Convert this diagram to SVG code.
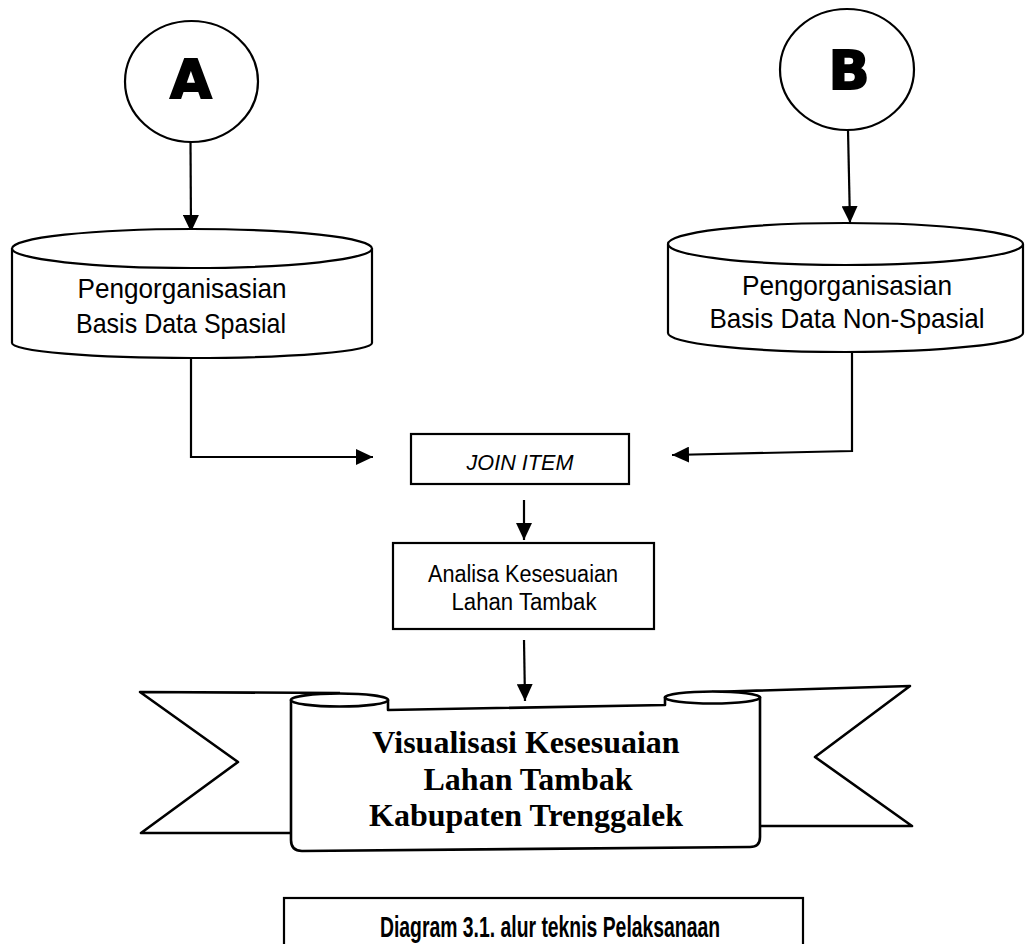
<svg xmlns="http://www.w3.org/2000/svg" width="1025" height="944" viewBox="0 0 1025 944">
  <style>
    .ln { fill: none; stroke: #000; stroke-width: 2.2; }
    .shape { fill: #fff; stroke: #000; stroke-width: 2.2; }
    .heavy { fill: #fff; stroke: #000; stroke-width: 2.6; stroke-linejoin: round; }
    .sans { font-family: "Liberation Sans", Arial, sans-serif; fill: #000; text-anchor: middle; }
    .letter { font-family: "DejaVu Sans", "Liberation Sans", sans-serif; font-weight: bold; font-size: 54px; fill: #000; stroke: #000; stroke-width: 1.8; text-anchor: middle; }
    .serif { font-family: "Liberation Serif", "Times New Roman", serif; font-weight: bold; font-size: 32px; fill: #000; text-anchor: middle; }
  </style>
  <defs>
    <marker id="arrow" markerUnits="userSpaceOnUse" markerWidth="17" markerHeight="16" refX="17" refY="8" orient="auto">
      <path d="M0,0 L17,8 L0,16 Z" fill="#000"/>
    </marker>
  </defs>

  <rect width="1025" height="944" fill="#fff"/>

  <!-- connectors -->
  <g id="connectors">
    <path class="ln" d="M190.5,142 L191,232" marker-end="url(#arrow)"/>
    <path class="ln" d="M848,130 L850,223" marker-end="url(#arrow)"/>
    <path class="ln" d="M191,359 L191,457 L373,457" marker-end="url(#arrow)"/>
    <path class="ln" d="M852,352 L852,451 L672,455" marker-end="url(#arrow)"/>
    <path class="ln" d="M524,500 L524,540" marker-end="url(#arrow)"/>
    <path class="ln" d="M524,640 L525,701" marker-end="url(#arrow)"/>
  </g>

  <!-- start connectors -->
  <g id="node-a">
    <ellipse class="shape" cx="191.5" cy="81.5" rx="66.5" ry="60.5"/>
    <text class="letter" x="191" y="98">A</text>
  </g>
  <g id="node-b">
    <ellipse class="shape" cx="847" cy="69.5" rx="67" ry="60.5"/>
    <text class="letter" x="849" y="89">B</text>
  </g>

  <!-- database cylinders -->
  <g id="db-spasial">
    <path class="shape" d="M12,248 L12,343 A180,15 0 0 0 372,343 L372,248"/>
    <ellipse class="shape" cx="192" cy="248.5" rx="180" ry="19.5"/>
    <text class="sans" font-size="28" x="182" y="298" textLength="209" lengthAdjust="spacingAndGlyphs">Pengorganisasian</text>
    <text class="sans" font-size="28" x="181" y="333" textLength="210" lengthAdjust="spacingAndGlyphs">Basis Data Spasial</text>
  </g>
  <g id="db-non-spasial">
    <path class="shape" d="M668,244 L668,333 A177.5,19 0 0 0 1023,333 L1023,244"/>
    <ellipse class="shape" cx="845.5" cy="244" rx="177.5" ry="21"/>
    <text class="sans" font-size="28" x="847" y="295" textLength="210" lengthAdjust="spacingAndGlyphs">Pengorganisasian</text>
    <text class="sans" font-size="28" x="847" y="328" textLength="275" lengthAdjust="spacingAndGlyphs">Basis Data Non-Spasial</text>
  </g>

  <!-- process boxes -->
  <g id="join-item">
    <rect class="shape" x="411" y="434" width="218" height="50"/>
    <text class="sans" font-size="22" font-style="italic" x="520" y="470" textLength="107" lengthAdjust="spacingAndGlyphs">JOIN ITEM</text>
  </g>
  <g id="analisa">
    <rect class="shape" x="393" y="543" width="261" height="86"/>
    <text class="sans" font-size="23" x="523" y="582" textLength="190" lengthAdjust="spacingAndGlyphs">Analisa Kesesuaian</text>
    <text class="sans" font-size="23" x="524" y="610" textLength="145" lengthAdjust="spacingAndGlyphs">Lahan Tambak</text>
  </g>

  <!-- result ribbon -->
  <g id="visualisasi">
    <path class="heavy" d="M340,693 L140,692 L238,762 L141,833 L300,833"/>
    <path class="heavy" d="M712,692 L910,686 L815,757 L912,826 L752,826"/>
    <path class="heavy" d="M291,700 L291,840 Q291,851 302,851 L750,847 Q760,847 760,837 L760,697 L665,697 L665,705 L388,710 L388,700 Z"/>
    <ellipse class="heavy" cx="339.5" cy="700" rx="48.5" ry="6.5"/>
    <ellipse class="heavy" cx="712.5" cy="697.5" rx="47.5" ry="6"/>
    <text class="serif" x="526" y="753">Visualisasi Kesesuaian</text>
    <text class="serif" x="528" y="790">Lahan Tambak</text>
    <text class="serif" x="526" y="826">Kabupaten Trenggalek</text>
  </g>

  <!-- caption -->
  <g id="caption">
    <rect class="shape" x="284" y="898" width="519" height="70"/>
    <text class="sans" font-size="29" font-weight="bold" x="550" y="937" textLength="340" lengthAdjust="spacingAndGlyphs">Diagram 3.1. alur teknis Pelaksanaan</text>
  </g>
</svg>
